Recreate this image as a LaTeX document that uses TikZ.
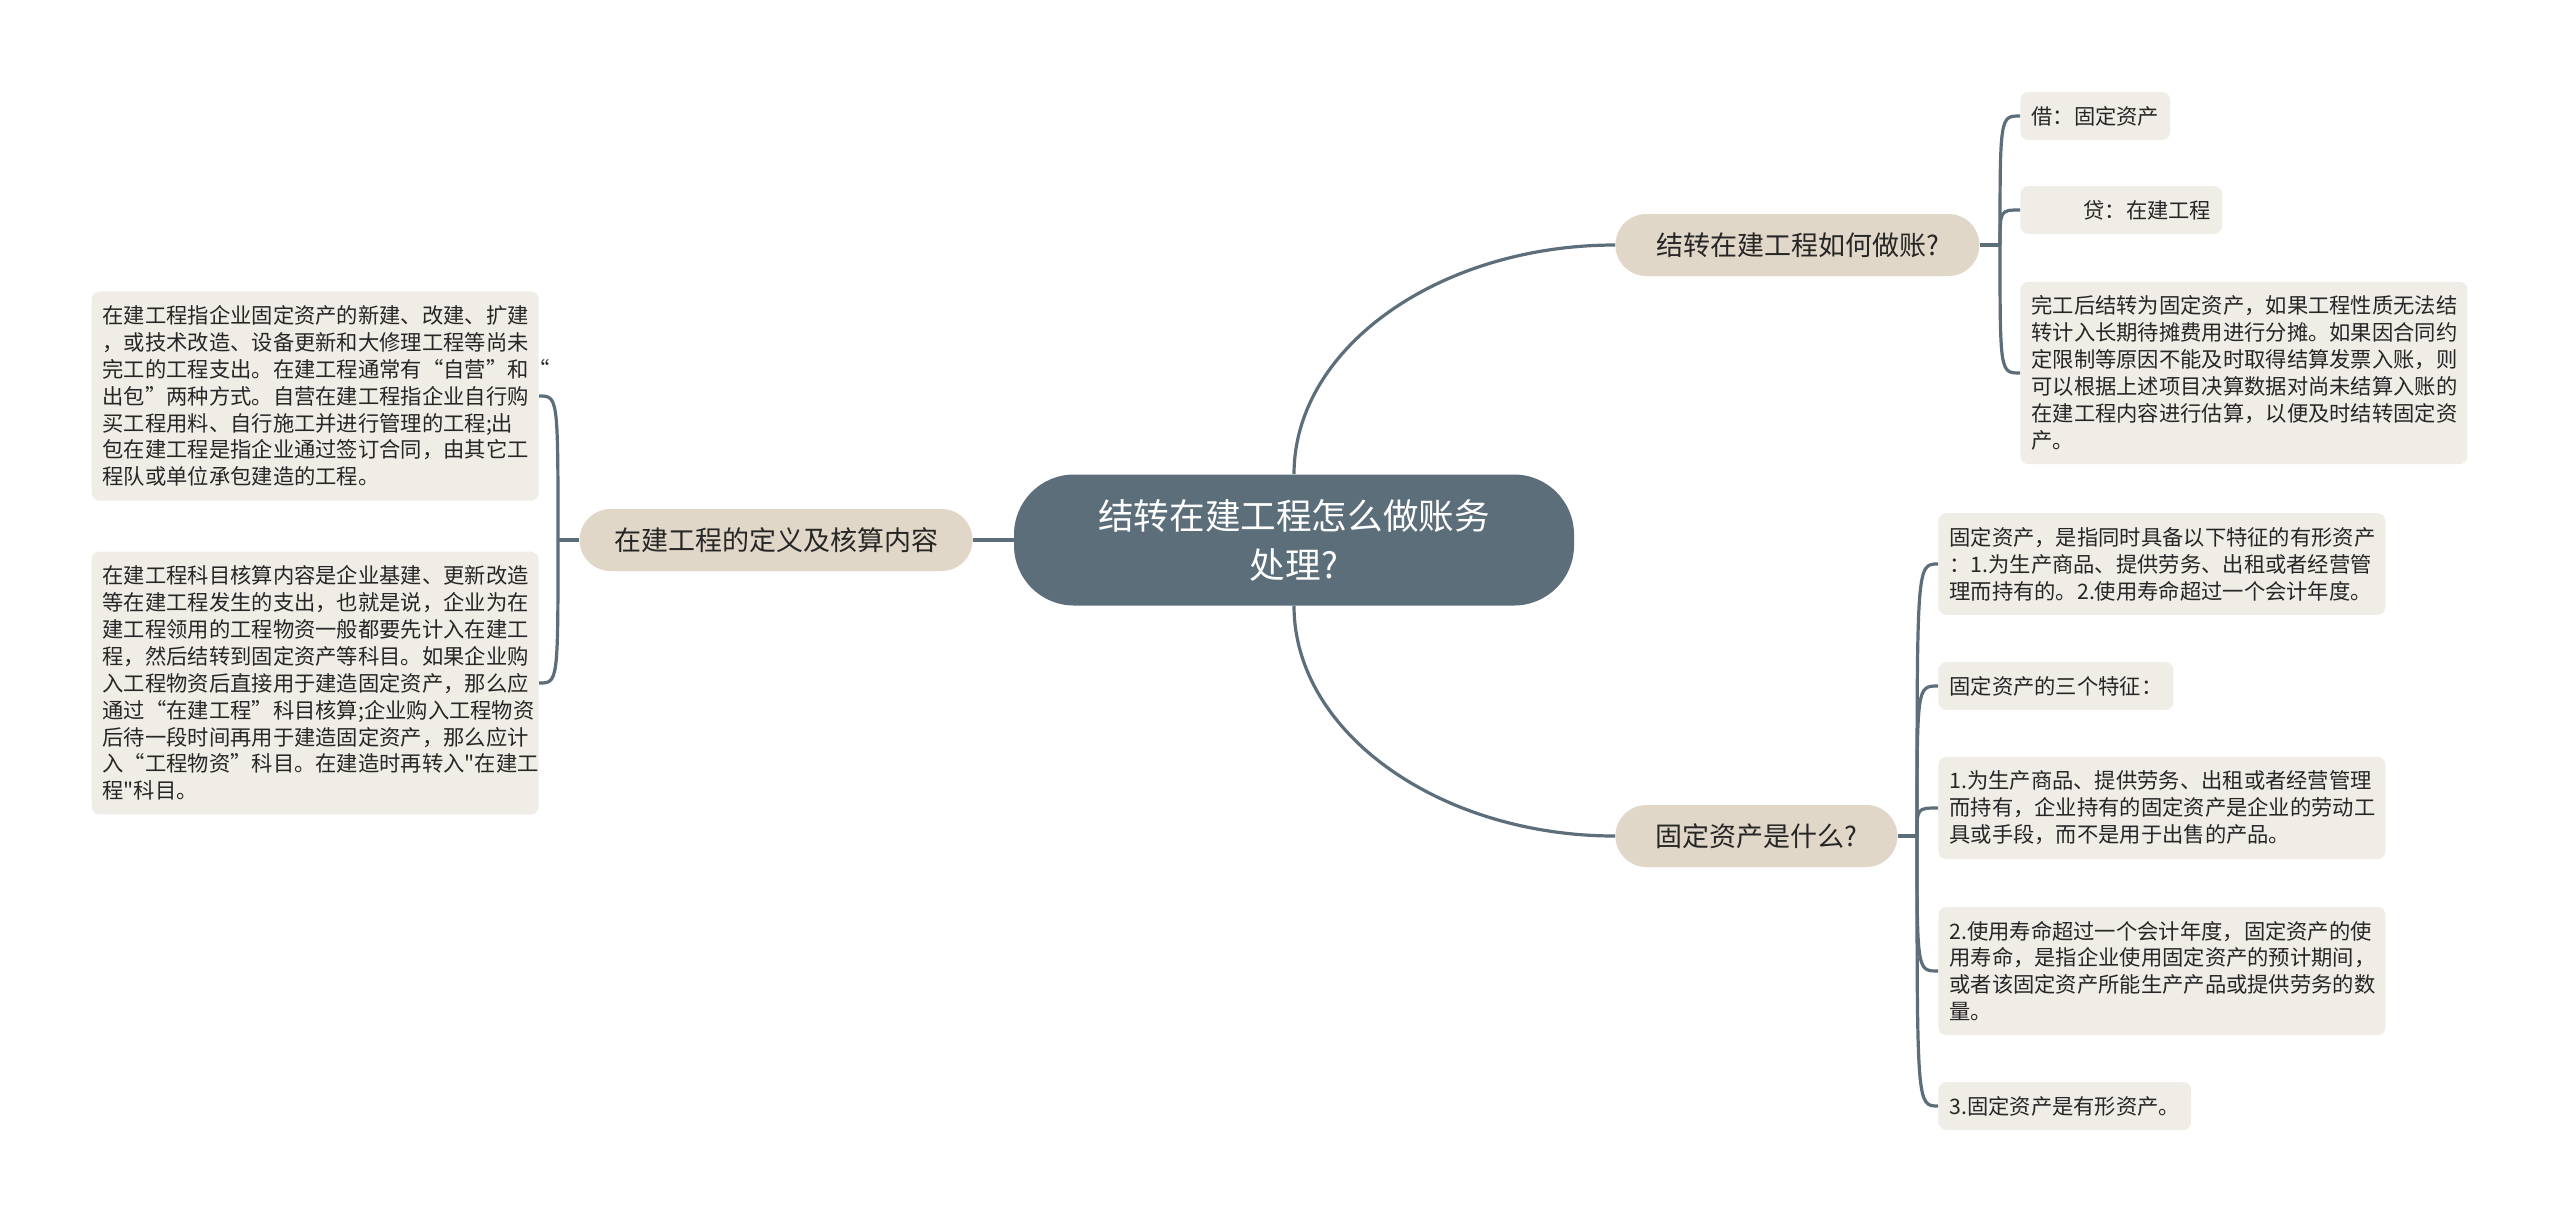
\documentclass[tikz,border=0pt]{standalone}
\usepackage{fontspec}
\setmainfont{Noto Sans CJK SC}
\newfontfamily\plainq{Noto Sans CJK SC}
\definecolor{hubfill}{HTML}{5C6E7A}
\definecolor{subfill}{HTML}{E0D7C8}
\definecolor{leaffill}{HTML}{F0EDE6}
\definecolor{ink}{HTML}{262626}
\definecolor{wirecol}{HTML}{5C6E7A}
\newcommand{\sq}{{\plainq\char34}}
\begin{document}
\begin{tikzpicture}[x=0.5pt,y=-0.5pt,
  hubnode/.style={fill=hubfill, text=white, rounded corners=30pt, minimum width=280pt, minimum height=65.5pt, align=center, inner sep=0pt, font=\fontsize{17.8pt}{24.5pt}\selectfont},
  subnode/.style={fill=subfill, text=ink, rounded corners=15.5pt, minimum height=31pt, inner sep=0pt, font=\fontsize{13.5pt}{16pt}\selectfont},
  leafnode/.style={fill=leaffill, text=ink, rounded corners=4pt, inner xsep=5.5pt, inner ysep=7pt, align=left, font=\fontsize{10.65pt}{13.45pt}\selectfont},
  widebox/.style={leafnode, text width=212.5pt},
  wire/.style={draw=wirecol, line width=1.6pt}
]
\fill[white] (0,0) rectangle (2560,1223);
\useasboundingbox (0,0) rectangle (2560,1223);

% central topic
\node[hubnode] (hub) at (1294,540) {结转在建工程怎么做账务\\处理?};

% main branches
\node[subnode, minimum width=182pt, anchor=west] (sa) at (1615,245) {结转在建工程如何做账?};
\node[subnode, minimum width=141pt, anchor=west] (sb) at (1615,836) {固定资产是什么?};
\node[subnode, minimum width=196.5pt, anchor=east] (sl) at (973,540) {在建工程的定义及核算内容};

% right top leaves
\node[leafnode, anchor=west] (ra1) at (2020,116) {借：固定资产};
\node[leafnode, anchor=west] (ra2) at (2020,210) {\hspace*{26pt}贷：在建工程};
\node[widebox, anchor=west] (ra3) at (2020,373) {完工后结转为固定资产，如果工程性质无法结\\
转计入长期待摊费用进行分摊。如果因合同约\\
定限制等原因不能及时取得结算发票入账，则\\
可以根据上述项目决算数据对尚未结算入账的\\
在建工程内容进行估算，以便及时结转固定资\\
产。};

% right bottom leaves
\node[widebox, anchor=west] (rb1) at (1938,564) {固定资产，是指同时具备以下特征的有形资产\\
：1.为生产商品、提供劳务、出租或者经营管\\
理而持有的。2.使用寿命超过一个会计年度。};
\node[leafnode, anchor=west] (rb2) at (1938,686) {固定资产的三个特征：};
\node[widebox, anchor=west] (rb3) at (1938,808) {1.为生产商品、提供劳务、出租或者经营管理\\
而持有，企业持有的固定资产是企业的劳动工\\
具或手段，而不是用于出售的产品。};
\node[widebox, anchor=west] (rb4) at (1938,971) {2.使用寿命超过一个会计年度，固定资产的使\\
用寿命，是指企业使用固定资产的预计期间，\\
或者该固定资产所能生产产品或提供劳务的数\\
量。};
\node[leafnode, anchor=west] (rb5) at (1938,1106) {3.固定资产是有形资产。};

% left leaves
\node[widebox, anchor=east] (la1) at (539,396) {在建工程指企业固定资产的新建、改建、扩建\\
，或技术改造、设备更新和大修理工程等尚未\\
完工的工程支出。在建工程通常有“自营”和“\\
出包”两种方式。自营在建工程指企业自行购\\
买工程用料、自行施工并进行管理的工程;出\\
包在建工程是指企业通过签订合同，由其它工\\
程队或单位承包建造的工程。};
\node[widebox, anchor=east] (la2) at (539,683) {在建工程科目核算内容是企业基建、更新改造\\
等在建工程发生的支出，也就是说，企业为在\\
建工程领用的工程物资一般都要先计入在建工\\
程，然后结转到固定资产等科目。如果企业购\\
入工程物资后直接用于建造固定资产，那么应\\
通过“在建工程”科目核算;企业购入工程物资\\
后待一段时间再用于建造固定资产，那么应计\\
入“工程物资”科目。在建造时再转入\sq 在建工\\
程\sq 科目。};

% connectors from central topic
\draw[wire] (hub.west) -- (sl.east);
\draw[wire] (hub.north) .. controls +(0,-127) and +(-175,0) .. (sa.west);
\draw[wire] (hub.south) .. controls +(0,127) and +(-175,0) .. (sb.west);

% right top bracket
\coordinate (ja) at (2000,245);
\draw[wire] (sa.east) -- (ja);
\foreach \n in {ra1,ra2,ra3}{
  \draw[wire] (ja) .. controls (ja |- \n.west) .. (\n.west);
}

% right bottom bracket
\coordinate (jb) at (1917,836);
\draw[wire] (sb.east) -- (jb);
\foreach \n in {rb1,rb2,rb3,rb4,rb5}{
  \draw[wire] (jb) .. controls (jb |- \n.west) .. (\n.west);
}

% left bracket
\coordinate (jl) at (558,540);
\draw[wire] (sl.west) -- (jl);
\foreach \n in {la1,la2}{
  \draw[wire] (jl) .. controls (jl |- \n.east) .. (\n.east);
}
\end{tikzpicture}
\end{document}
